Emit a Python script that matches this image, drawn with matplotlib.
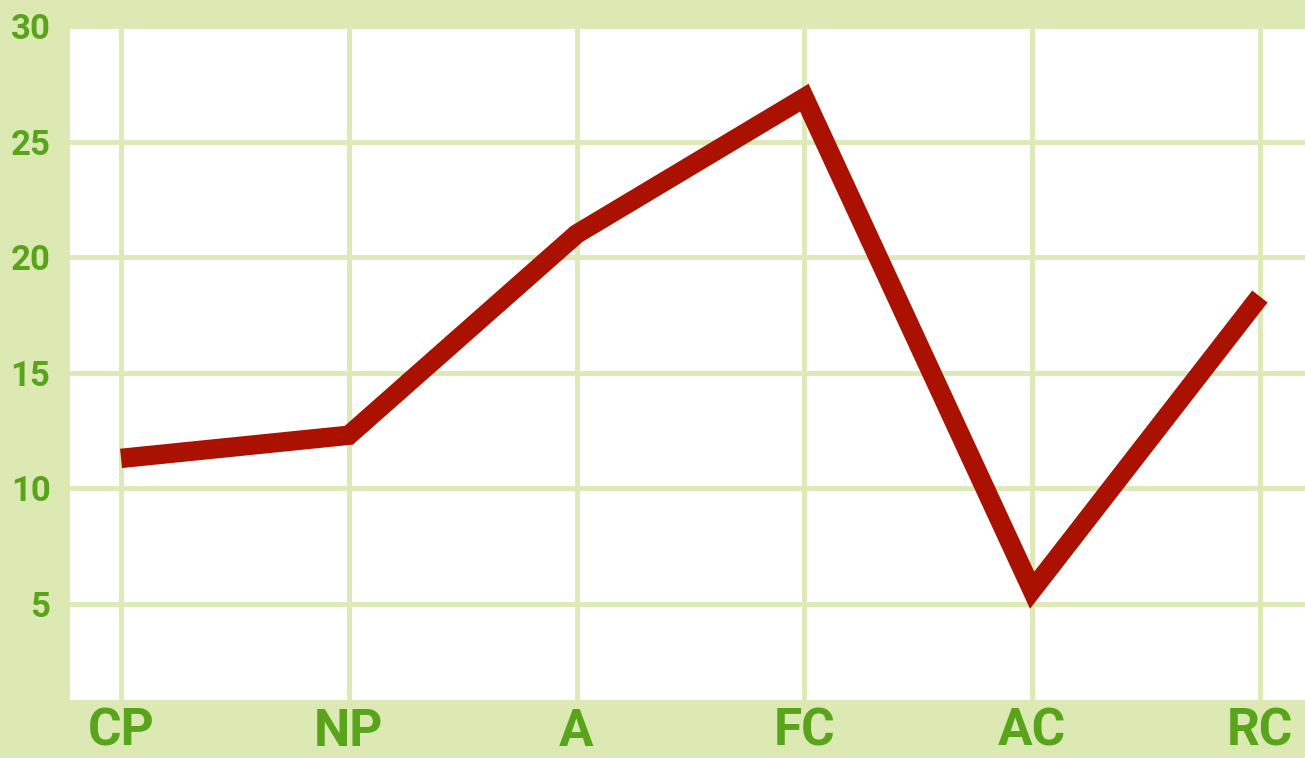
import matplotlib
matplotlib.use("Agg")
import matplotlib.pyplot as plt

categories = ["CP", "NP", "A", "FC", "AC", "RC"]
values = [11.3, 12.3, 21.0, 26.9, 5.6, 18.3]
y_ticks = [5, 10, 15, 20, 25, 30]

bg = "#dce9b3"
grid_c = "#dde9b6"
text_c = "#58a51c"
line_c = "#aa1100"

W, H = 1305, 758
fig = plt.figure(figsize=(W / 100, H / 100), dpi=100, facecolor=bg)
ax = fig.add_axes([70 / W, 58 / H, 1 - 70 / W, (700 - 26) / H])
ax.set_facecolor("white")

x = list(range(len(categories)))
ax.plot(x, values, color=line_c, lw=14, solid_joinstyle="miter", solid_capstyle="butt", zorder=3)

ax.set_xlim(-0.224, 5.198)
ax.set_ylim(0.85, 30)
ax.set_xticks(x)
ax.set_xticklabels(categories)
ax.set_yticks(y_ticks)
ax.set_yticklabels([str(v) for v in y_ticks])

ax.grid(True, color=grid_c, lw=3.5, zorder=0)
ax.set_axisbelow(True)
for s in ax.spines.values():
    s.set_visible(False)
ax.tick_params(length=0)
ax.tick_params(axis="x", pad=5)
ax.tick_params(axis="y", pad=14)
for lab in ax.get_xticklabels():
    lab.set_fontfamily("Roboto")
    lab.set_fontweight("bold")
    lab.set_fontsize(37)
    lab.set_color(text_c)
for lab in ax.get_yticklabels():
    lab.set_fontfamily("Roboto")
    lab.set_fontweight("bold")
    lab.set_fontsize(25)
    lab.set_color(text_c)

fig.savefig("out.png", dpi=100, facecolor=bg)
